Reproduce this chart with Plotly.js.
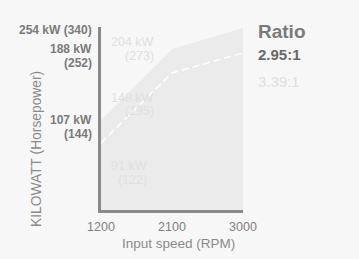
<!DOCTYPE html>
<html>
<head>
<meta charset="utf-8">
<script src="https://cdn.plot.ly/plotly-3.0.1.min.js"></script>
<style>html,body{margin:0;padding:0;background:#f7f7f7;}#chart{width:359px;height:259px;}</style>
</head>
<body>
<div id="chart"></div>
<script>
// ---- data ----
const speeds = [1200, 2100, 3000];              // input speed (RPM)
const speedTicks = ['1200', '2100', '3000'];
const ratios = ['2.95:1', '3.39:1'];
const kw295 = [107, 188, 254];                  // kW, ratio 2.95:1
const hp295 = [144, 252, 340];                  // horsepower, ratio 2.95:1
const kw339 = [91, 148, 204];                   // kW, ratio 3.39:1
const hp339 = [122, 195, 273];                  // horsepower, ratio 3.39:1
// schematic curve heights (percent of the axis height, chart is not to scale)
const height295 = [49.2, 88.0, 99.5];
const height339 = [36.6, 74.9, 85.8];

// ---- layout helpers ----
const W = 359, H = 259, L = 101, R = 243, T = 27, B = 210;
const px = x => (x - L) / (R - L);
const py = y => (B - y) / (B - T);
const FONT = 'Liberation Sans, Arial, sans-serif';
const dark = '#7a7a7a', light = '#e0e0e0';

const traces = [
  {x: speeds, y: height295, type: 'scatter', mode: 'lines', fill: 'tozeroy',
   fillcolor: '#ebebeb', line: {width: 0, color: '#ebebeb'}, hoverinfo: 'skip', name: ratios[0]},
  {x: speeds, y: height339, type: 'scatter', mode: 'lines',
   line: {width: 1.5, color: '#ffffff', dash: '7px,4px'}, hoverinfo: 'skip', name: ratios[1]}
];

const ann = [];
// left labels (2.95:1), first line tied to the curve height
const leftShift1 = [-0.5, -0.5, -2];
kw295.forEach((k, i) => {
  const single = i === kw295.length - 1;
  ann.push({xref: 'paper', yref: 'y', x: px(94), y: height295[i], xanchor: 'right', yanchor: 'middle',
    yshift: leftShift1[i], showarrow: false,
    text: single ? `${k} kW (${hp295[i]})` : `${k} kW`,
    font: {family: FONT, size: 12, color: dark, weight: 'bold'}});
  if (!single) ann.push({xref: 'paper', yref: 'y', x: px(94), y: height295[i], xanchor: 'right', yanchor: 'middle',
    yshift: -14.5, showarrow: false, text: `(${hp295[i]})`,
    font: {family: FONT, size: 12, color: dark, weight: 'bold'}});
});
// inner labels (3.39:1), placed in a column inside the plot
const innerPos = [[149, 166, 180], [156, 97.5, 111.5], [156, 42, 56]];
kw339.forEach((k, i) => {
  const p = innerPos[i];
  ann.push({xref: 'paper', yref: 'paper', x: px(p[0]), y: py(p[1]), xanchor: 'right', yanchor: 'middle',
    showarrow: false, text: `${k} kW`, font: {family: FONT, size: 12.5, color: light}});
  ann.push({xref: 'paper', yref: 'paper', x: px(p[0]), y: py(p[2]), xanchor: 'right', yanchor: 'middle',
    showarrow: false, text: `(${hp339[i]})`, font: {family: FONT, size: 12.5, color: light}});
});
// legend-like ratio text
ann.push({xref: 'paper', yref: 'paper', x: px(256), y: py(31.5), xanchor: 'left', yanchor: 'middle',
  showarrow: false, text: 'Ratio', font: {family: FONT, size: 19, color: dark, weight: 'bold'}});
ann.push({xref: 'paper', yref: 'paper', x: px(256), y: py(55), xanchor: 'left', yanchor: 'middle',
  showarrow: false, text: ratios[0], font: {family: FONT, size: 15, color: '#686868', weight: 'bold'}});
ann.push({xref: 'paper', yref: 'paper', x: px(256), y: py(81), xanchor: 'left', yanchor: 'middle',
  showarrow: false, text: ratios[1], font: {family: FONT, size: 15, color: light}});
// y axis title
ann.push({xref: 'paper', yref: 'paper', x: px(36), y: py(149), xanchor: 'center', yanchor: 'middle',
  showarrow: false, textangle: -90, text: 'KILOWATT (Horsepower)', font: {family: FONT, size: 13.8, color: '#8a8a8a'}});
// x axis title
ann.push({xref: 'paper', yref: 'paper', x: px(178), y: py(243), xanchor: 'center', yanchor: 'middle',
  showarrow: false, text: 'Input speed (RPM)', font: {family: FONT, size: 13.5, color: '#8a8a8a'}});

const layout = {
  width: W, height: H,
  margin: {l: L, r: W - R, t: T, b: H - B, pad: 0},
  paper_bgcolor: '#f7f7f7', plot_bgcolor: '#f7f7f7',
  showlegend: false,
  xaxis: {range: [speeds[0], speeds[speeds.length - 1]], tickvals: speeds, ticktext: speedTicks,
    showgrid: false, zeroline: false, showline: true, linecolor: '#8a8a8a', linewidth: 3,
    ticks: '', ticklabelstandoff: 3, tickfont: {family: FONT, size: 12.5, color: '#808080'}, fixedrange: true},
  yaxis: {range: [0, 100], showticklabels: false, showgrid: false, zeroline: false,
    showline: true, linecolor: '#8a8a8a', linewidth: 3, ticks: '', fixedrange: true},
  annotations: ann
};

Plotly.newPlot('chart', traces, layout, {displayModeBar: false, staticPlot: true});
</script>
</body>
</html>
